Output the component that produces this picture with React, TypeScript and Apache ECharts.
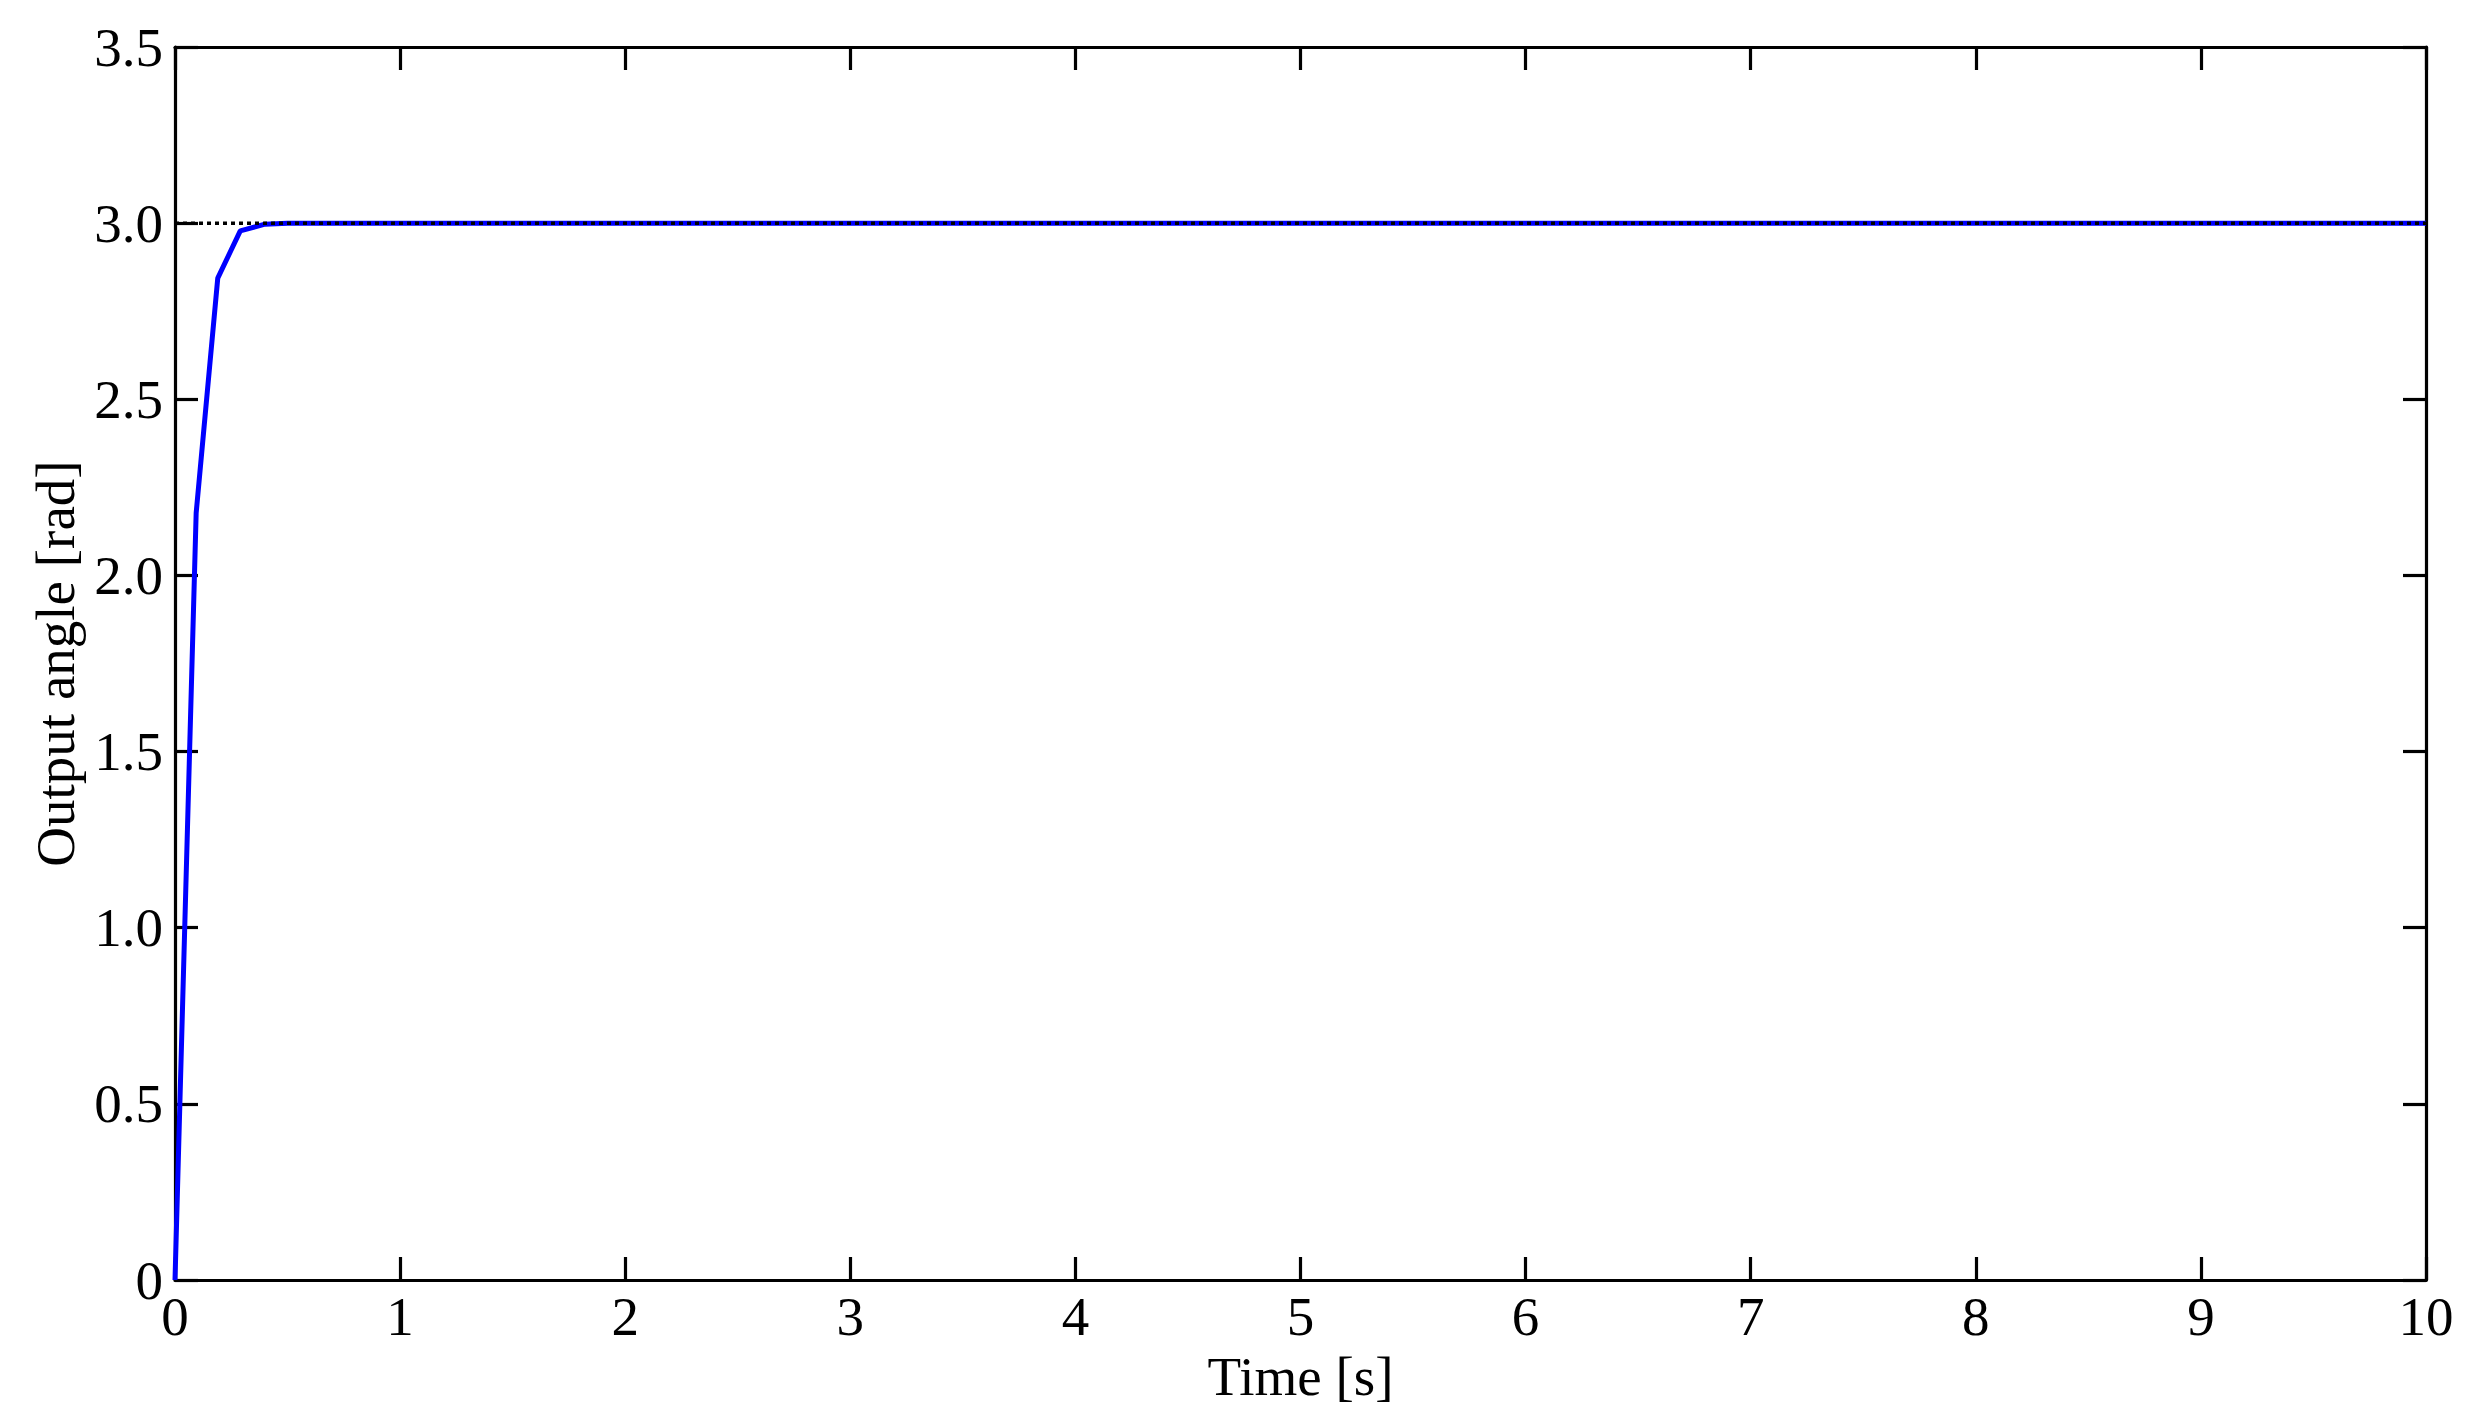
import React, { useEffect, useRef } from "react";
import * as echarts from "echarts";

const timeValues = [0, 0.094, 0.19, 0.29, 0.4, 0.5, 10];
const angleValues = [0, 2.177, 2.844, 2.978, 2.997, 3.0, 3.0];
const referenceTime = [0, 10];
const referenceAngle = [3.0, 3.0];
const xTicks = { min: 0, max: 10, interval: 1 };
const yTicks = { min: 0, max: 3.5, interval: 0.5 };

const FONT = "Liberation Serif";

export default function App() {
  const ref = useRef<HTMLDivElement>(null);
  useEffect(() => {
    document.body.style.margin = "0";
    const chart = echarts.init(ref.current!, null, { renderer: "svg" });
    const axisLine = { show: true, onZero: false, lineStyle: { color: "#000", width: 3.2 } };
    const axisTick = { show: true, inside: true, length: 23, lineStyle: { color: "#000", width: 3.2 } };
    const labelStyle = { color: "#000", fontFamily: FONT, fontSize: 55 };
    chart.setOption({
      animation: false,
      backgroundColor: "#fff",
      grid: { left: 175, right: 39, top: 47, bottom: 143, containLabel: false, outerBoundsMode: "none" },
      xAxis: [
        {
          type: "value",
          position: "bottom",
          ...xTicks,
          name: "Time [s]",
          nameLocation: "middle",
          nameGap: 49,
          nameTextStyle: { ...labelStyle },
          axisLine,
          axisTick,
          splitLine: { show: false },
          axisLabel: { ...labelStyle, margin: 9 },
        },
        {
          type: "value",
          position: "top",
          ...xTicks,
          axisLine,
          axisTick,
          splitLine: { show: false },
          axisLabel: { show: false },
        },
      ],
      yAxis: [
        {
          type: "value",
          position: "left",
          ...yTicks,
          name: "Output angle [rad]",
          nameLocation: "middle",
          nameGap: 92,
          nameTextStyle: { ...labelStyle },
          axisLine,
          axisTick,
          splitLine: { show: false },
          axisLabel: {
            ...labelStyle,
            margin: 12,
            formatter: (v: number) => (v === 0 ? "0" : v.toFixed(1)),
          },
        },
        {
          type: "value",
          position: "right",
          ...yTicks,
          axisLine,
          axisTick,
          splitLine: { show: false },
          axisLabel: { show: false },
        },
      ],
      series: [
        {
          type: "line",
          xAxisIndex: 0,
          yAxisIndex: 0,
          data: timeValues.map((t, i) => [t, angleValues[i]]),
          showSymbol: false,
          lineStyle: { color: "#0000ff", width: 5 },
          itemStyle: { color: "#0000ff" },
          z: 2,
        },
        {
          type: "line",
          xAxisIndex: 0,
          yAxisIndex: 0,
          data: referenceTime.map((t, i) => [t, referenceAngle[i]]),
          showSymbol: false,
          lineStyle: { color: "#000", width: 3.5, type: [4, 4] },
          itemStyle: { color: "#000" },
          z: 3,
        },
      ],
    });
    return () => chart.dispose();
  }, []);
  return <div ref={ref} style={{ width: 2465, height: 1423 }} />;
}
